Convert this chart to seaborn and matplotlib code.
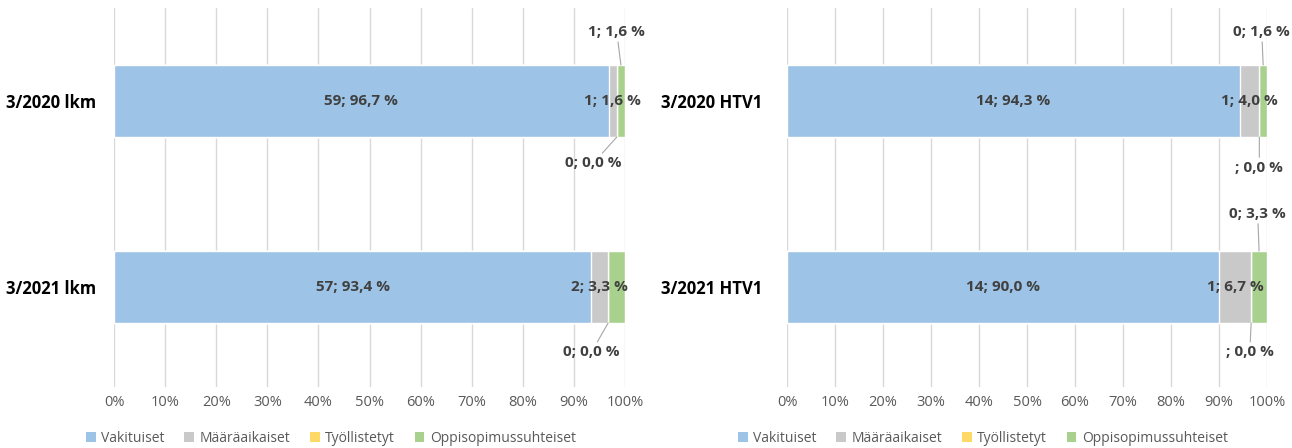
import pandas as pd
import seaborn as sns
import matplotlib.pyplot as plt
from matplotlib.patches import Patch

# Data
series = ['Vakituiset', 'Määräaikaiset', 'Työllistetyt', 'Oppisopimussuhteiset']
colors = ['#9DC3E6', '#C9C9C9', '#FFD966', '#A9D18E']

left_categories = ['3/2020 lkm', '3/2021 lkm']
left_counts = [[59, 1, 0, 1], [57, 2, 0, 2]]
left_pcts = [[96.7, 1.6, 0.0, 1.6], [93.4, 3.3, 0.0, 3.3]]

right_categories = ['3/2020 HTV1', '3/2021 HTV1']
right_counts = [[14, 1, None, 0], [14, 1, None, 0]]
right_pcts = [[94.3, 4.0, 0.0, 1.6], [90.0, 6.7, 0.0, 3.3]]

# which labels are shown and where (row, series, placement, offset in points)
left_labels = [(0, 0, 'in', None), (0, 1, 'in', None), (0, 3, 'above', (-3, 24)), (0, 2, 'below', (-17, -19)),
               (1, 0, 'in', None), (1, 1, 'in', None), (1, 2, 'below', (-12, -21))]
right_labels = [(0, 0, 'in', None), (0, 1, 'in', None), (0, 3, 'above', (-1, 24)), (0, 2, 'below', (0, -22)),
                (1, 0, 'in', None), (1, 1, 'in', None), (1, 3, 'above', (-1, 27)), (1, 2, 'below', (-1, -21))]

sns.set_style('white')
plt.rcParams['font.family'] = ['Open Sans', 'DejaVu Sans']

BAR_W = 0.387
LABEL_COLOR = '#404040'


def fmt_label(count, pct):
    c = '' if count is None else str(count)
    return f"{c}; {pct:.1f} %".replace('.', ',')


def draw_chart(ax, categories, counts, pcts, labels, ypad):
    df = pd.DataFrame(pcts, columns=series)
    df = df.div(df.sum(axis=1), axis=0) * 100  # 100 % stacked
    cum = df.cumsum(axis=1)
    cum['kategoria'] = categories
    # stack by drawing cumulative bars from the largest to the smallest
    for i in reversed(range(len(series))):
        sns.barplot(data=cum, x=series[i], y='kategoria', orient='h', color=colors[i],
                    saturation=1, width=BAR_W, edgecolor='white', linewidth=1,
                    errorbar=None, ax=ax)

    for row, s, place, off in labels:
        start = cum.iloc[row, s] - df.iloc[row, s]
        mid = start + df.iloc[row, s] / 2
        txt = fmt_label(counts[row][s], pcts[row][s])
        if place == 'in':
            ax.text(mid, row, txt, ha='center', va='center', fontsize=11,
                    fontweight='bold', color=LABEL_COLOR)
        else:
            edge = row - BAR_W / 2 if place == 'above' else row + BAR_W / 2
            ax.annotate(txt, xy=(mid, edge), xytext=off, textcoords='offset points',
                        ha='center', va='center', fontsize=11, fontweight='bold',
                        color=LABEL_COLOR, annotation_clip=False,
                        arrowprops=dict(arrowstyle='-', color='#A6A6A6', lw=0.8,
                                        shrinkA=0, shrinkB=0))

    ax.set_xlim(0, 100)
    ax.set_ylim(1.5376, -0.5)
    ax.set_xticks(range(0, 101, 10))
    ax.set_xticklabels([f'{t}%' for t in range(0, 101, 10)])
    ax.set_xlabel('')
    ax.set_ylabel('')
    ax.grid(axis='x', color='#D9D9D9', linewidth=1.0)
    ax.grid(axis='y', visible=False)
    ax.set_axisbelow(True)
    sns.despine(ax=ax, left=True, bottom=True)
    ax.tick_params(axis='x', length=0, pad=6, labelsize=10.5, labelcolor='#595959')
    ax.tick_params(axis='y', length=0, pad=ypad, labelsize=12, labelcolor='black')
    for t in ax.get_yticklabels():
        t.set_fontweight('bold')


fig = plt.figure(figsize=(12.92, 4.48), dpi=100)
ax1 = fig.add_axes([114 / 1292, 1 - 387 / 448, 511 / 1292, 379 / 448])
ax2 = fig.add_axes([787 / 1292, 1 - 387 / 448, 480 / 1292, 379 / 448])

draw_chart(ax1, left_categories, left_counts, left_pcts, left_labels, 13)
draw_chart(ax2, right_categories, right_counts, right_pcts, right_labels, 18)

handles = [Patch(facecolor=c, edgecolor='none') for c in colors]
for cx in (331, 983):
    fig.legend(handles, series, loc='center', bbox_to_anchor=(cx / 1292, 1 - 438 / 448),
               ncol=4, frameon=False, fontsize=10, labelcolor='#595959',
               handlelength=0.7, handleheight=0.7, handletextpad=0.4, columnspacing=1.4)

fig.savefig('out.png', dpi=100)
